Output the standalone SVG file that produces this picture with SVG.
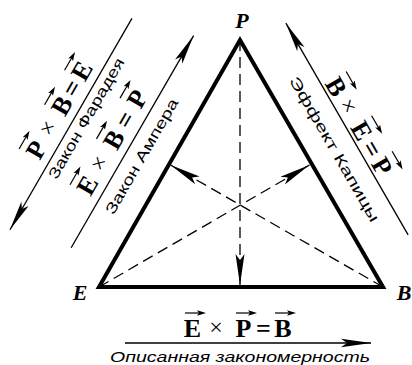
<svg xmlns="http://www.w3.org/2000/svg" width="412" height="365" viewBox="0 0 412 365">
<style>
.tri{fill:none;stroke:#000;stroke-width:4;stroke-linejoin:miter}
.dash{fill:none;stroke:#000;stroke-width:1.3;stroke-dasharray:11 6}
.ln{fill:none;stroke:#000;stroke-width:1.3}
.lbl{font-family:"Liberation Serif",serif;font-weight:bold;font-style:italic;font-size:22px;text-anchor:middle}
.f{font-family:"Liberation Serif",serif;font-weight:bold;font-size:26px;text-anchor:middle}
.x{font-family:"Liberation Serif",serif;font-size:24px;text-anchor:middle}
.t{font-family:"Liberation Sans",Arial,sans-serif;font-size:15px}
.ti{font-family:"Liberation Sans",Arial,sans-serif;font-size:15px;font-style:italic}
</style>
<defs>
<marker id="ah" markerUnits="userSpaceOnUse" markerWidth="34" markerHeight="12" viewBox="-32 -6 34 12" refX="0" refY="0" orient="auto" overflow="visible"><path d="M0,0 L-31,-4.5 L-25,0 L-31,4.5Z" fill="#000"/></marker>
<marker id="ah2" markerUnits="userSpaceOnUse" markerWidth="34" markerHeight="12" viewBox="-32 -6 34 12" refX="0" refY="0" orient="auto" overflow="visible"><path d="M0,0 L-30,-4.2 L-24,0 L-30,4.2Z" fill="#000"/></marker>
<g id="va"><path d="M0,0 H17" stroke="#000" stroke-width="1.2"/><path d="M21,0 L12,-2.8 L14,0 L12,2.8Z" fill="#000"/></g>
</defs>

<g id="triangle">
<path class="tri" d="M240,40 L383,287 L99,287 Z"/>
</g>
<g id="node-P"><text class="lbl" x="242" y="28">P</text></g>
<g id="node-E"><text class="lbl" x="80" y="300">E</text></g>
<g id="node-B"><text class="lbl" x="404" y="300">B</text></g>

<g id="connectors">
<path class="dash" d="M240,40 L240,285" marker-end="url(#ah)"/>
<path class="dash" d="M99,287 L309.5,165" marker-end="url(#ah)"/>
<path class="dash" d="M383,287 L170.5,165" marker-end="url(#ah)"/>
<g transform="rotate(-60)">
<path class="ln" d="M50,123.5 L-194,123.5" marker-end="url(#ah2)"/>
<path class="ln" d="M-179,185.5 L66,185.5" marker-end="url(#ah2)"/>
</g>
<g transform="rotate(60)">
<path class="ln" d="M407.5,-236 L163,-236" marker-end="url(#ah2)"/>
</g>
<path class="ln" d="M125,343 L371,343" marker-end="url(#ah2)"/>
</g>

<g id="faraday" transform="rotate(-60)">
<text class="f" x="-111.5" y="115">P</text>
<text class="x" x="-87" y="113">×</text>
<text class="f" x="-60.5" y="115">B</text>
<text class="f" x="-40.5" y="115">=</text>
<text class="f" x="-20.5" y="115">E</text>
<use href="#va" x="-119.5" y="91"/>
<use href="#va" x="-68.5" y="91"/>
<use href="#va" x="-28.5" y="91"/>
<text class="t" x="-128" y="139" textLength="137" lengthAdjust="spacingAndGlyphs">Закон Фарадея</text>
</g>

<g id="ampere" transform="rotate(-60)">
<text class="f" x="-117" y="177">E</text>
<text class="x" x="-92" y="175">×</text>
<text class="f" x="-64" y="177">B</text>
<text class="f" x="-41" y="177">=</text>
<text class="f" x="-17" y="177">P</text>
<use href="#va" x="-125" y="153"/>
<use href="#va" x="-72" y="153"/>
<use href="#va" x="-25" y="153"/>
<text class="t" x="-130" y="206" textLength="131" lengthAdjust="spacingAndGlyphs">Закон Ампера</text>
</g>

<g id="kapitsa" transform="rotate(60)">
<text class="f" x="243" y="-239">B</text>
<text class="x" x="266" y="-241">×</text>
<text class="f" x="294" y="-239">E</text>
<text class="f" x="315" y="-239">=</text>
<text class="f" x="335" y="-239">P</text>
<use href="#va" x="235" y="-264"/>
<use href="#va" x="286" y="-264"/>
<use href="#va" x="327" y="-264"/>
<text class="t" x="214" y="-210" textLength="165" lengthAdjust="spacingAndGlyphs">Эффект Капицы</text>
</g>

<g id="described">
<text class="f" x="192.5" y="337">E</text>
<text class="x" x="216" y="335">×</text>
<text class="f" x="243.5" y="337">P</text>
<text class="f" x="263.5" y="337">=</text>
<text class="f" x="283" y="337">B</text>
<use href="#va" x="185" y="313"/>
<use href="#va" x="236" y="313"/>
<use href="#va" x="275" y="313"/>
<text class="ti" x="110" y="362" textLength="260" lengthAdjust="spacingAndGlyphs">Описанная закономерность</text>
</g>
</svg>
